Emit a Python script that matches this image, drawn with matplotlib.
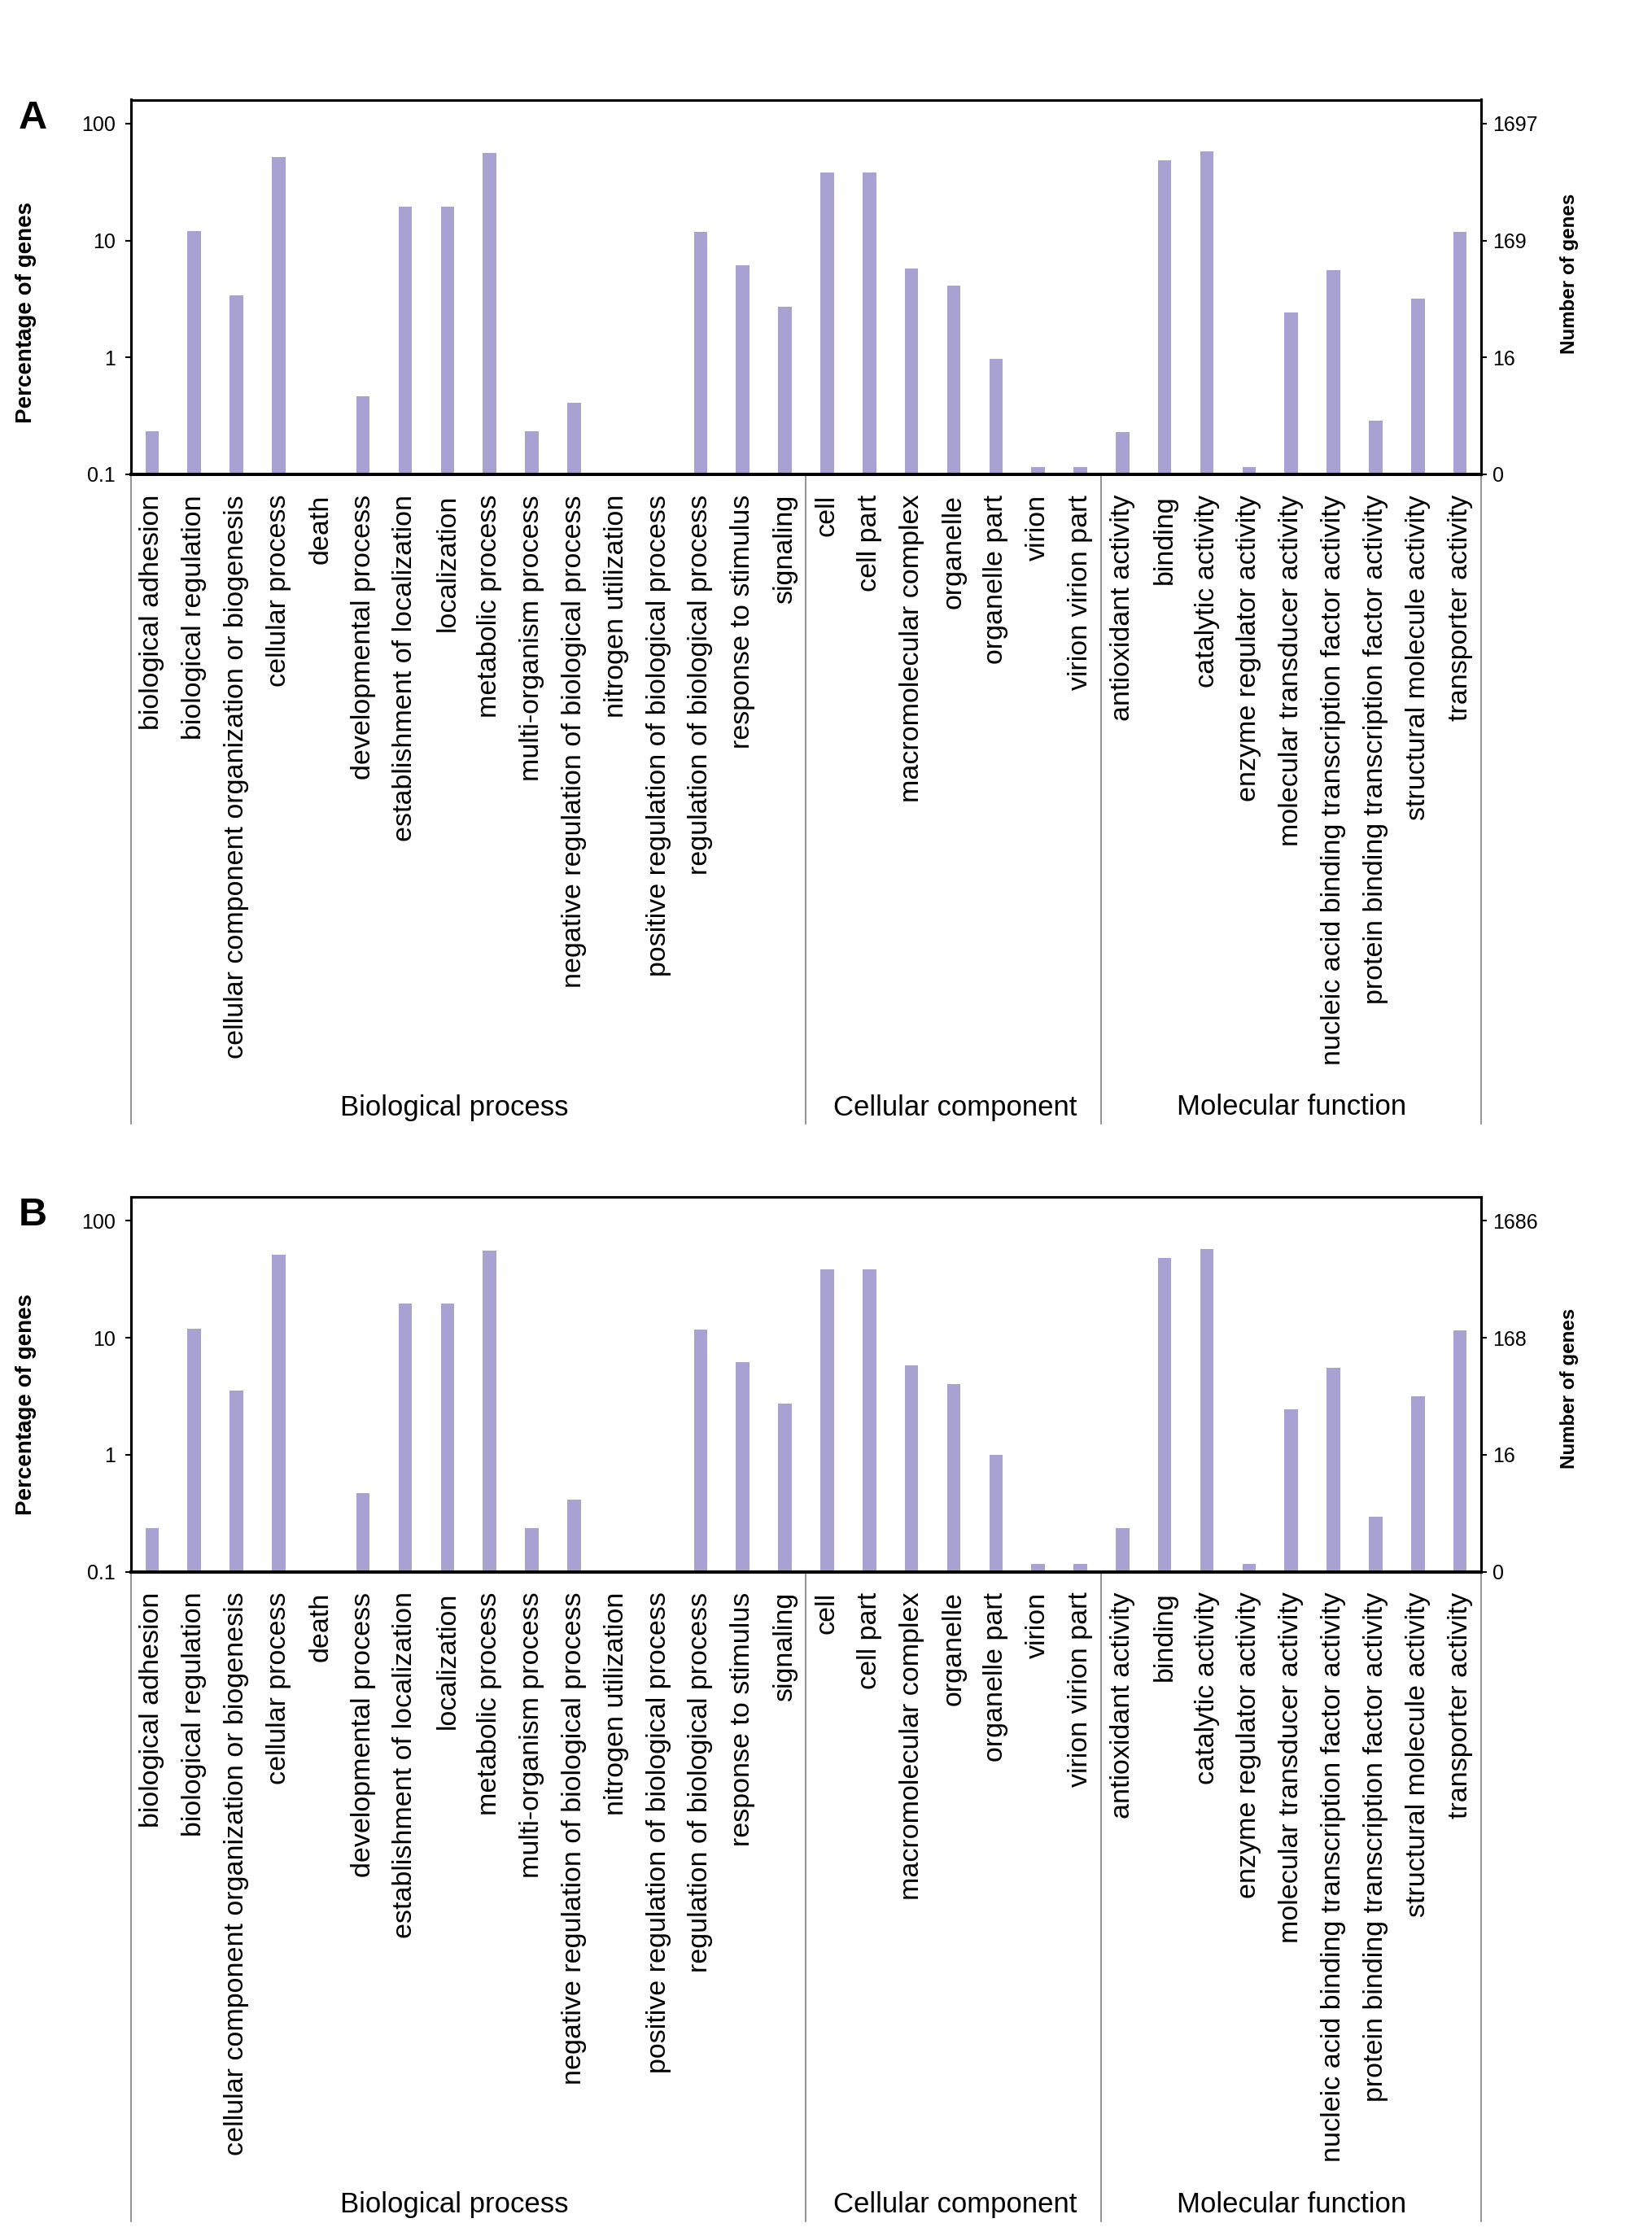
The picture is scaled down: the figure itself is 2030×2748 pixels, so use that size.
import numpy as np
import matplotlib
matplotlib.use("Agg")
import matplotlib.pyplot as plt
from matplotlib.ticker import NullLocator

plt.rcParams['font.family'] = ['Liberation Sans', 'DejaVu Sans']

# GO categories, grouped
bp_terms = ['biological adhesion', 'biological regulation',
            'cellular component organization or biogenesis', 'cellular process',
            'death', 'developmental process', 'establishment of localization',
            'localization', 'metabolic process', 'multi-organism process',
            'negative regulation of biological process', 'nitrogen utilization',
            'positive regulation of biological process',
            'regulation of biological process', 'response to stimulus', 'signaling']
cc_terms = ['cell', 'cell part', 'macromolecular complex', 'organelle',
            'organelle part', 'virion', 'virion virion part']
mf_terms = ['antioxidant activity', 'binding', 'catalytic activity',
            'enzyme regulator activity', 'molecular transducer activity',
            'nucleic acid binding transcription factor activity',
            'protein binding transcription factor activity',
            'structural molecule activity', 'transporter activity']
group_names = ['Biological process', 'Cellular component', 'Molecular function']

# percentage of genes, panel A
bp_a = [0.235, 12.0, 3.41, 51.4, 0.102, 0.467, 19.5, 19.5, 55.8, 0.235,
        0.411, 0.102, 0.102, 11.8, 6.15, 2.70]
cc_a = [38.1, 38.1, 5.8, 4.12, 0.98, 0.115, 0.115]
mf_a = [0.231, 48.2, 57.5, 0.115, 2.43, 5.55, 0.287, 3.17, 11.75]

# percentage of genes, panel B
bp_b = [0.236, 12.0, 3.56, 51.1, 0.102, 0.47, 19.5, 19.5, 55.7, 0.236,
        0.414, 0.102, 0.102, 11.8, 6.2, 2.72]
cc_b = [38.4, 38.4, 5.79, 3.99, 0.996, 0.116, 0.116]
mf_b = [0.236, 48.3, 57.3, 0.116, 2.45, 5.56, 0.294, 3.17, 11.65]

pct_ticks = [0.1, 1, 10, 100]
count_labels_a = ['0', '16', '169', '1697']
count_labels_b = ['0', '16', '168', '1686']

bar_color = '#A8A2D2'
W, H = 2031, 2748


def px_axes(left, top, right, bottom):
    return [left / W, 1 - bottom / H, (right - left) / W, (bottom - top) / H]


def draw_panel(fig, top, values, count_labels, letter, left_off, right_off):
    bottom = top + 460.5
    ax = fig.add_axes(px_axes(161, top, 1820, bottom))
    terms = bp_terms + cc_terms + mf_terms
    x = np.arange(len(terms))
    ax.bar(x, values, width=0.32, color=bar_color, zorder=2)
    ax.set_yscale('log')
    ax.set_ylim(0.1, 160)
    ax.set_xlim(-0.5, len(terms) - 0.5)
    ax.yaxis.set_minor_locator(NullLocator())
    ax.set_yticks(pct_ticks)
    ax.set_yticklabels(['0.1', '1', '10', '100'])
    ax.tick_params(axis='y', length=5, width=1.5, labelsize=18, pad=9)
    ax.set_xticks(x)
    ax.set_xticklabels(terms, rotation=90, va='top', ha='center', fontsize=24.5)
    ax.tick_params(axis='x', length=0, pad=18)
    for s in ax.spines.values():
        s.set_linewidth(2.2)
    ax.spines['bottom'].set_linewidth(2.8)

    ax2 = ax.twinx()
    ax2.set_yscale('log')
    ax2.set_ylim(ax.get_ylim())
    ax2.yaxis.set_minor_locator(NullLocator())
    ax2.set_yticks(pct_ticks)
    ax2.set_yticklabels(count_labels)
    ax2.tick_params(axis='y', length=5, width=1.5, labelsize=18, pad=5)
    for s in ax2.spines.values():
        s.set_linewidth(2.2)
    ax2.spines['bottom'].set_linewidth(2.8)

    # group separators and group names below the tick labels
    h_ax = bottom - top
    y_line = -(top + 1258.5 - bottom) / h_ax
    y_name = -(top + 1238.5 - bottom) / h_ax
    trans = ax.get_xaxis_transform()
    n1, n2 = len(bp_terms), len(bp_terms) + len(cc_terms)
    edges = [-0.5, n1 - 0.5, n2 - 0.5, len(terms) - 0.5]
    name_shift = [-0.33, 0.03, 0.0]
    for e in edges:
        ax.plot([e, e], [0, y_line], transform=trans, color='#8a8a8a',
                lw=1.3, clip_on=False)
    for i, name in enumerate(group_names):
        ax.text((edges[i] + edges[i + 1]) / 2 + name_shift[i], y_name, name,
                transform=trans, ha='center', va='center', fontsize=25)

    fig.text(32 / W, 1 - (top + left_off) / H, 'Percentage of genes', rotation=90,
             ha='center', va='center', fontsize=20, fontweight='bold')
    fig.text(1929 / W, 1 - (top + right_off) / H, 'Number of genes', rotation=90,
             ha='center', va='center', fontsize=17.4, fontweight='bold')
    fig.text(40 / W, 1 - (top + 35) / H, letter, ha='center', va='baseline',
             fontsize=35, fontweight='bold')


fig = plt.figure(figsize=(W / 100, H / 100), dpi=100)
draw_panel(fig, 122.5, bp_a + cc_a + mf_a, count_labels_a, 'A', 262, 214)
draw_panel(fig, 1471, bp_b + cc_b + mf_b, count_labels_b, 'B', 255, 235)
fig.savefig('out.png', dpi=100)
